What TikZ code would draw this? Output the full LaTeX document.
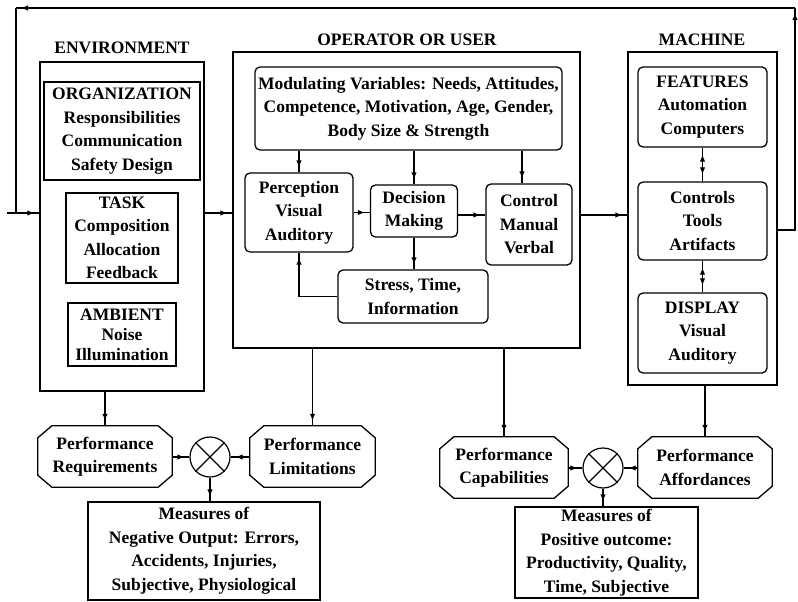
\documentclass[tikz,border=0pt]{standalone}
\usepackage{fontspec}
\setmainfont{Liberation Serif}
\usetikzlibrary{calc,arrows.meta,decorations.markings}

\tikzset{
  lbl/.style={font=\fontsize{17.5}{23.5}\selectfont\bfseries, align=center, inner sep=0pt},
  bx/.style={lbl, draw, line width=1.3pt, rectangle, minimum width=#1},
  rbx/.style={bx=#1, rounded corners=5pt},
  plainbx/.style={lbl, rectangle, minimum width=#1},
  ttl/.style={font=\fontsize{17.5}{20}\selectfont\bfseries, inner sep=0pt},
  wire/.style={line width=1.2pt},
  ar/.style={wire, postaction={decorate}, decoration={markings,
      mark=at position -5pt with {\arrow{Latex[length=7pt,width=5.5pt]}}}},
  biar/.style={wire, postaction={decorate}, decoration={markings,
      mark=at position 7pt with {\arrowreversed{Latex[length=7pt,width=5.5pt]}},
      mark=at position -7pt with {\arrow{Latex[length=7pt,width=5.5pt]}}}},
  mult/.style={circle, draw, line width=1.2pt, minimum size=40pt, inner sep=0pt},
}

% chamfered outline round a named node
\newcommand{\chamfer}[1]{%
  \draw[line width=1.3pt]
    ($(#1.north west)+(14,0)$) -- ($(#1.north east)+(-14,0)$) --
    ($(#1.north east)+(0,12)$) -- ($(#1.south east)+(0,-12)$) --
    ($(#1.south east)+(-14,0)$) -- ($(#1.south west)+(14,0)$) --
    ($(#1.south west)+(0,-12)$) -- ($(#1.north west)+(0,12)$) -- cycle;}

\begin{document}
\begin{tikzpicture}[x=1pt,y=-1pt]
\useasboundingbox (0,0) rectangle (798,602);

% section titles
\node[ttl] (tenv) at (122,48) {ENVIRONMENT};
\node[ttl] (top) at (407,40) {OPERATOR OR USER};
\node[ttl] (tmach) at (702,40) {MACHINE};

% environment
\node[bx=164pt, minimum height=329pt] (env) at (122,226.5) {};
\node[bx=156pt, minimum height=98pt, line width=1.6pt] (org) at (122,131)
  {ORGANIZATION\\Responsibilities\\Communication\\Safety Design};
\node[bx=112pt, minimum height=90pt] (task) at (122,238)
  {TASK\\Composition\\Allocation\\Feedback};
\node[bx=108pt, minimum height=63pt, font=\fontsize{17.5}{20}\selectfont\bfseries] (amb) at (122,334.5)
  {AMBIENT\\Noise\\Illumination};

% operator or user
\node[bx=347pt, minimum height=296pt] (op) at (406.5,200) {};
\node[rbx=307pt, minimum height=83pt] (mod) at (408.5,108.5)
  {Modulating Variables: Needs, Attitudes,\\Competence, Motivation, Age, Gender,\\Body Size \& Strength};
\node[rbx=108pt, minimum height=79pt] (perc) at (299,212.5)
  {Perception\\Visual\\Auditory};
\node[rbx=87pt, minimum height=52pt] (dec) at (414,211)
  {Decision\\Making};
\node[rbx=86pt, minimum height=81pt] (ctrl) at (529,224.5)
  {Control\\Manual\\Verbal};
\node[rbx=150pt, minimum height=53pt] (stress) at (413,296.5)
  {Stress, Time,\\Information};

% machine
\node[bx=149pt, minimum height=333pt] (mach) at (702.5,218.5) {};
\node[rbx=129pt, minimum height=80pt] (feat) at (702.5,107)
  {FEATURES\\Automation\\Computers};
\node[rbx=129pt, minimum height=78pt] (ctls) at (702.5,221)
  {Controls\\Tools\\Artifacts};
\node[rbx=129pt, minimum height=80pt] (disp) at (702.5,333)
  {DISPLAY\\Visual\\Auditory};

% performance comparison, negative side
\node[plainbx=134pt, minimum height=61pt] (pr) at (105,456.5)
  {Performance\\Requirements};
\chamfer{pr}
\node[mult] (x1) at (210,457) {};
\draw[line width=1.2pt] (x1.north west) -- (x1.south east) (x1.north east) -- (x1.south west);
\node[plainbx=125pt, minimum height=61pt] (pl) at (312.5,456.5)
  {Performance\\Limitations};
\chamfer{pl}
\node[bx=232pt, minimum height=98pt] (neg) at (204,551)
  {Measures of\\Negative Output: Errors,\\Accidents, Injuries,\\Subjective, Physiological};

% performance comparison, positive side
\node[plainbx=128pt, minimum height=61pt] (pc) at (504,467.5)
  {Performance\\Capabilities};
\chamfer{pc}
\node[mult] (x2) at (603,468) {};
\draw[line width=1.2pt] (x2.north west) -- (x2.south east) (x2.north east) -- (x2.south west);
\node[plainbx=134pt, minimum height=61pt] (pa) at (705,467.5)
  {Performance\\Affordances};
\chamfer{pa}
\node[bx=183pt, minimum height=91pt] (pos) at (606.5,552.5)
  {Measures of\\Positive outcome:\\Productivity, Quality,\\Time, Subjective};

% helper coordinates
\coordinate (yin) at (0,213);
\coordinate (yout) at (0,215);
\coordinate (xctl) at (522,0);
\coordinate (fbr) at (795,230);
\coordinate (fbtr) at (795,8);
\coordinate (fbtl) at (16,8);
\coordinate (fbbl) at (16,213);
\coordinate (fbin) at (7,213);

% main flow
\draw[ar] (env.east |- yin) -- (op.west |- yin);
\draw[ar] (op.east |- yout) -- (mach.west |- yout);

% feedback loop
\draw[ar] (mach.east |- fbr) -- (fbr) -- (fbtr);
\draw[ar] (fbtr) -- (fbtl);
\draw[wire] (fbtl) -- (fbbl);
\draw[ar] (fbin) -- (env.west |- fbin);

% inside operator
\draw[ar] (mod.south -| perc.north) -- (perc.north);
\draw[ar] (mod.south -| dec.north) -- (dec.north);
\draw[ar] (mod.south -| xctl) -- (ctrl.north -| xctl);
\draw[ar] (perc.east) -- (perc.east -| dec.west);
\draw[ar] (dec.east |- yout) -- (ctrl.west |- yout);
\draw[ar] (dec.south) -- (dec.south |- stress.north);
\draw[ar] (stress.west) -| (perc.south);

% inside machine
\draw[biar] (feat.south) -- (ctls.north);
\draw[biar] (ctls.south) -- (disp.north);

% down to performance
\draw[ar] (env.south -| pr.north) -- (pr.north);
\draw[ar] (op.south -| pl.north) -- (pl.north);
\draw[ar] (op.south -| pc.north) -- (pc.north);
\draw[ar] (mach.south -| pa.north) -- (pa.north);

% comparisons
\draw[ar] (pr.east |- x1) -- (x1.west);
\draw[ar] (pl.west |- x1) -- (x1.east);
\draw[ar] (x1.south) -- (x1.south |- neg.north);
\draw[ar] (pc.east |- x2) -- (x2.west);
\draw[ar] (pa.west |- x2) -- (x2.east);
\draw[ar] (x2.south) -- (x2.south |- pos.north);
\end{tikzpicture}
\end{document}
